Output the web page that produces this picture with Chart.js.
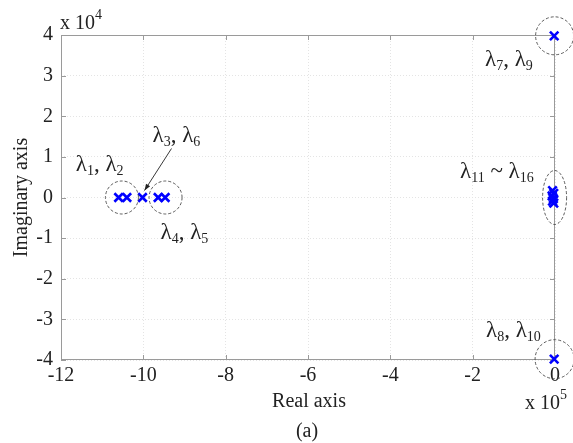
<!DOCTYPE html>
<html>
<head>
<meta charset="utf-8">
<script src="https://cdn.jsdelivr.net/npm/chart.js@4.4.0/dist/chart.umd.min.js"></script>
<style>
  html, body { margin: 0; padding: 0; background: #fff; }
  #wrap { width: 573px; height: 443px; }
</style>
</head>
<body>
<div id="wrap"><canvas id="grafico" width="573" height="443"></canvas></div>
<script>
// eigenvalues: real part in x10^5, imaginary part in x10^4
const realParts = [-10.6, -10.4, -10.02, -9.64, -9.47, -0.02, -0.02, -0.06, -0.03, -0.07, -0.04, -0.06, -0.03];
const imagParts = [0, 0, 0, 0, 0, 3.98, -3.98, 0.17, 0.1, 0.04, -0.03, -0.09, -0.14];

const xTicks = [-12, -10, -8, -6, -4, -2, 0];
const yTicks = [-4, -3, -2, -1, 0, 1, 2, 3, 4];

// dashed rings around the groups: centre (data) and radii (px)
const ringX = [-10.52, -9.46, -0.01, -0.01, -0.01];
const ringY = [0, 0, 3.98, -3.98, 0];
const ringRx = [16.5, 16.5, 19, 19.5, 12];
const ringRy = [16.5, 16.5, 19, 19.5, 27];

const ctx = document.getElementById('grafico').getContext('2d');
const FONT = '"Liberation Serif", "Times New Roman", serif';

const puntos = realParts.map((x, i) => ({ x: x, y: imagParts[i] }));

// labels: list of [text, isSubscript], anchored to a data point plus a pixel offset
const etiquetas = [
  { at: [-10.5, 0], dx: -47, dy: -27, parts: [['λ', 0], ['1', 1], [', λ', 0], ['2', 1]] },
  { at: [-10.02, 0], dx: 10, dy: -56, parts: [['λ', 0], ['3', 1], [', λ', 0], ['6', 1]] },
  { at: [-9.46, 0], dx: -5, dy: 41, parts: [['λ', 0], ['4', 1], [', λ', 0], ['5', 1]] },
  { at: [0, 4], dx: -70, dy: 31, parts: [['λ', 0], ['7', 1], [', λ', 0], ['9', 1]] },
  { at: [0, 0], dx: -95, dy: -20, parts: [['λ', 0], ['11', 1], [' ~ λ', 0], ['16', 1]] },
  { at: [0, -4], dx: -69, dy: -23, parts: [['λ', 0], ['8', 1], [', λ', 0], ['10', 1]] }
];

function textoCompuesto(c, parts, x, y) {
  c.textAlign = 'left';
  c.textBaseline = 'alphabetic';
  parts.forEach(p => {
    if (p[1]) {
      c.font = '14px ' + FONT;
      c.fillText(p[0], x, y + 4);
    } else {
      c.font = '23px ' + FONT;
      c.fillText(p[0], x, y);
    }
    x += c.measureText(p[0]).width;
  });
}

const extras = {
  id: 'extras',
  beforeDatasetsDraw(chart) {
    const c = chart.ctx;
    const a = chart.chartArea;
    const sx = chart.scales.x, sy = chart.scales.y;
    c.save();
    // box
    c.strokeStyle = '#9a9a9a';
    c.lineWidth = 1;
    c.strokeRect(a.left + 0.5, a.top + 0.5, a.right - a.left - 1, a.bottom - a.top - 1);
    // inner ticks
    xTicks.forEach(v => {
      const px = Math.round(sx.getPixelForValue(v)) + 0.5;
      c.beginPath();
      c.moveTo(px, a.bottom); c.lineTo(px, a.bottom - 5);
      c.moveTo(px, a.top); c.lineTo(px, a.top + 5);
      c.stroke();
    });
    yTicks.forEach(v => {
      const py = Math.round(sy.getPixelForValue(v)) + 0.5;
      c.beginPath();
      c.moveTo(a.left, py); c.lineTo(a.left + 5, py);
      c.moveTo(a.right, py); c.lineTo(a.right - 5, py);
      c.stroke();
    });
    c.restore();
  },
  afterDatasetsDraw(chart) {
    const c = chart.ctx;
    const a = chart.chartArea;
    const sx = chart.scales.x, sy = chart.scales.y;
    c.save();
    // dashed rings
    c.strokeStyle = '#333';
    c.lineWidth = 0.8;
    c.setLineDash([3, 2]);
    ringX.forEach((v, i) => {
      c.beginPath();
      c.ellipse(sx.getPixelForValue(v), sy.getPixelForValue(ringY[i]), ringRx[i], ringRy[i], 0, 0, Math.PI * 2);
      c.stroke();
    });
    c.setLineDash([]);

    // labels
    c.fillStyle = '#222';
    etiquetas.forEach(e => {
      const px = sx.getPixelForValue(e.at[0]) + e.dx;
      const py = sy.getPixelForValue(e.at[1]) + e.dy;
      textoCompuesto(c, e.parts, px, py);
    });

    // arrow to lambda3,6
    const tx = sx.getPixelForValue(-10.02) + 2, ty = sy.getPixelForValue(0) - 7;
    const fx = tx + 27, fy = ty - 42;
    c.strokeStyle = '#222';
    c.lineWidth = 0.9;
    c.beginPath(); c.moveTo(fx, fy); c.lineTo(tx, ty); c.stroke();
    const ang = Math.atan2(ty - fy, tx - fx);
    c.beginPath();
    c.moveTo(tx, ty);
    c.lineTo(tx - 7 * Math.cos(ang - 0.35), ty - 7 * Math.sin(ang - 0.35));
    c.lineTo(tx - 7 * Math.cos(ang + 0.35), ty - 7 * Math.sin(ang + 0.35));
    c.closePath();
    c.fill();

    // exponents
    c.font = '20px ' + FONT;
    c.textAlign = 'left';
    c.fillText('x 10', a.left - 1, a.top - 6);
    const w4 = c.measureText('x 10').width;
    c.font = '14px ' + FONT;
    c.fillText('4', a.left - 1 + w4, a.top - 16);
    c.font = '20px ' + FONT;
    const w5 = c.measureText('x 10').width;
    c.fillText('x 10', a.right - 30, 409);
    c.font = '14px ' + FONT;
    c.fillText('5', a.right - 30 + w5, 399);

    // axis titles
    c.font = '20px ' + FONT;
    c.textAlign = 'center';
    c.fillText('Real axis', (a.left + a.right) / 2 + 1, 407);
    c.fillText('(a)', (a.left + a.right) / 2 - 1, 437);
    c.translate(27, (a.top + a.bottom) / 2);
    c.rotate(-Math.PI / 2);
    c.fillText('Imaginary axis', 0, 0);
    c.restore();
  }
};

new Chart(ctx, {
  type: 'scatter',
  data: {
    datasets: [{
      label: 'eigenvalues',
      data: puntos,
      clip: false,
      pointStyle: 'crossRot',
      pointRadius: 6,
      pointHoverRadius: 6,
      borderColor: '#0000ff',
      backgroundColor: '#0000ff',
      pointBorderWidth: 2.6
    }]
  },
  options: {
    responsive: false,
    animation: false,
    layout: { padding: { top: 35, right: 18, left: 0, bottom: 0 } },
    plugins: { legend: { display: false }, tooltip: { enabled: false } },
    scales: {
      x: {
        type: 'linear',
        min: -12, max: 0,
        afterFit: s => { s.height = 83; },
        afterBuildTicks: s => { s.ticks = xTicks.map(v => ({ value: v })); },
        grid: { color: '#e4e4e4', drawTicks: false },
        border: { display: false, dash: [1, 2] },
        ticks: { padding: 4, color: '#222', font: { family: FONT, size: 20 }, maxRotation: 0 }
      },
      y: {
        type: 'linear',
        min: -4, max: 4,
        afterFit: s => { s.width = 61; },
        afterBuildTicks: s => { s.ticks = yTicks.map(v => ({ value: v })); },
        grid: { color: '#e4e4e4', drawTicks: false },
        border: { display: false, dash: [1, 2] },
        ticks: { padding: 8, color: '#222', font: { family: FONT, size: 20 } }
      }
    }
  },
  plugins: [extras]
});
</script>
</body>
</html>
